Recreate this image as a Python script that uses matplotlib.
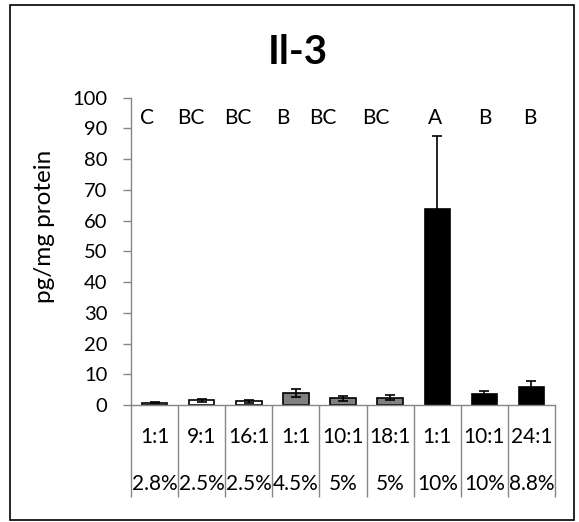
import numpy as np
import matplotlib
matplotlib.use("Agg")
import matplotlib.pyplot as plt
from matplotlib.patches import Rectangle

plt.rcParams['font.family'] = ['Lato', 'DejaVu Sans']

# Datos
ratios = ["1:1", "9:1", "16:1", "1:1", "10:1", "18:1", "1:1", "10:1", "24:1"]
percents = ["2.8%", "2.5%", "2.5%", "4.5%", "5%", "5%", "10%", "10%", "8.8%"]
means = [0.7, 1.5, 1.2, 4.0, 2.2, 2.4, 63.7, 3.5, 5.9]
errs = [0.2, 0.6, 0.5, 1.3, 0.8, 0.9, 23.9, 1.2, 2.0]
letters = ["C", "BC", "BC", "B", "BC", "BC", "A", "B", "B"]
fills = ["white", "white", "white", "#808080", "#808080", "#808080", "black", "black", "black"]

# desplazamiento de las letras respecto al centro de cada barra
letter_shift = [-0.17, -0.23, -0.24, -0.28, -0.43, -0.30, -0.05, 0.02, -0.03]

fig = plt.figure(figsize=(5.79, 5.22), dpi=100)
ax = fig.add_axes([0.2263, 0.2241, 0.7323, 0.5887])

x = np.arange(len(means))
ax.bar(x, means, width=0.54, color=fills, edgecolor="black", linewidth=1.2, zorder=2)
ax.errorbar(x, means, yerr=errs, fmt="none", ecolor="black", elinewidth=1.2,
            capsize=3.5, capthick=1.2, zorder=3)

ax.set_xlim(-0.5, len(means) - 0.5)
ax.set_ylim(0, 100)
ax.set_yticks(np.arange(0, 101, 10))
ax.tick_params(axis="y", length=6, width=1, color="#868686", labelsize=14.5, pad=11)
ax.set_xticks([])
for s in ["top", "right"]:
    ax.spines[s].set_visible(False)
for s in ["left", "bottom"]:
    ax.spines[s].set_color("#868686")
    ax.spines[s].set_linewidth(1)

# tabla de categorias bajo el eje
trans = ax.get_xaxis_transform()
ax.vlines(np.arange(len(means) + 1) - 0.5, -0.30, 0, transform=trans,
          colors="#868686", linewidth=1, clip_on=False)
for i in range(len(means)):
    ax.text(i, -0.104, ratios[i], transform=trans, ha="center", va="center", fontsize=15)
    ax.text(i, -0.257, percents[i], transform=trans, ha="center", va="center", fontsize=15)
    ax.text(i + letter_shift[i], 93.3, letters[i], ha="center", va="center", fontsize=15)

fig.text(297.5 / 579, 1 - 53 / 522, "Il-3", ha="center", va="center",
         fontsize=29, fontweight="bold")
fig.text(45 / 579, 1 - 226 / 522, "pg/mg protein", ha="center", va="center",
         rotation=90, fontsize=17.5)

fig.add_artist(Rectangle((9.5 / 579, 1 - 520 / 522), (574 - 9.5) / 579, (520 - 5) / 522,
                         transform=fig.transFigure, fill=False, edgecolor="black", linewidth=1.2))

fig.savefig("out.png", dpi=100)
